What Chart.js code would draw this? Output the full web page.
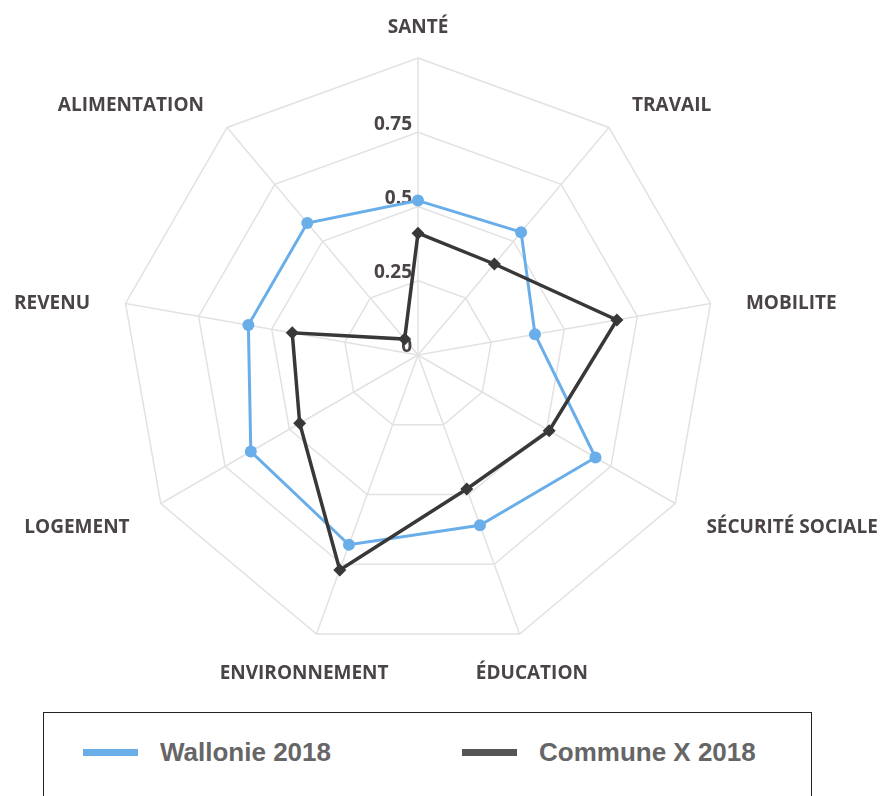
<!DOCTYPE html>
<html>
<head>
<meta charset="utf-8">
<script src="https://cdn.jsdelivr.net/npm/chart.js@4.4.1/dist/chart.umd.min.js"></script>
<style>
  body { margin: 0; background: #fff; width: 893px; height: 796px; overflow: hidden; position: relative; }
  #wrap { position: absolute; left: 0; top: 0; width: 893px; height: 710px; }
  #legend { position: absolute; left: 43px; top: 712px; width: 769px; height: 120px; border: 1px solid #222; box-sizing: border-box; }
  .item { position: absolute; top: 24px; height: 30px; display: flex; align-items: center;
          font: bold 26px "Liberation Sans", Arial, sans-serif; color: #666; }
  .swatch { width: 55px; height: 7px; margin-right: 22px; }
</style>
</head>
<body>
<div id="wrap"><canvas id="radar"></canvas></div>
<div id="legend"></div>
<script>
const categories = ['SANTÉ', 'TRAVAIL', 'MOBILITE', 'SÉCURITÉ SOCIALE', 'ÉDUCATION', 'ENVIRONNEMENT', 'LOGEMENT', 'REVENU', 'ALIMENTATION'];
const wallonie2018 = [0.52, 0.54, 0.40, 0.69, 0.61, 0.68, 0.65, 0.58, 0.58];
const communeX2018 = [0.41, 0.40, 0.68, 0.51, 0.48, 0.77, 0.46, 0.43, 0.07];
const tickValues = [0, 0.25, 0.5, 0.75];
const tickLabels = ['0', '0.25', '0.5', '0.75'];

const blue = '#6aaee9';
const dark = '#383838';
const textColor = '#4a4446';
const legendSwatch = [blue, '#555555'];

// axis names + tick labels, placed with the scale's own geometry
const radarText = {
    id: 'radarText',
    beforeDatasetsDraw(chart) {
        const r = chart.scales.r;
        const ctx = chart.ctx;
        ctx.save();
        ctx.font = 'bold 19px "Open Sans"';
        ctx.fillStyle = textColor;
        ctx.textBaseline = 'middle';
        categories.forEach((lab, i) => {
            const p = r.getPointPosition(i, r.drawingArea + 36);
            const dx = p.x - r.xCenter;
            ctx.textAlign = Math.abs(dx) < 150 ? 'center' : (dx > 0 ? 'left' : 'right');
            ctx.fillText(lab, p.x, p.y + 6);
        });
        ctx.textAlign = 'right';
        tickValues.forEach((v, i) => {
            const d = r.getDistanceFromCenterForValue(v);
            ctx.fillText(tickLabels[i], r.xCenter - 6, r.yCenter - d - 8);
        });
        ctx.restore();
    }
};

const chart = new Chart(document.getElementById('radar'), {
    type: 'radar',
    data: {
        labels: categories,
        datasets: [{
            label: 'Wallonie 2018',
            data: wallonie2018,
            borderColor: blue,
            backgroundColor: blue,
            borderWidth: 3,
            pointRadius: 6,
            pointBorderWidth: 0,
            pointStyle: 'circle',
            fill: false,
            order: 1
        }, {
            label: 'Commune X 2018',
            data: communeX2018,
            borderColor: dark,
            backgroundColor: dark,
            borderWidth: 3.5,
            pointRadius: 6.5,
            pointBorderWidth: 0,
            pointStyle: 'rectRot',
            fill: false,
            order: 0
        }]
    },
    options: {
        responsive: true,
        maintainAspectRatio: false,
        animation: false,
        layout: { padding: { left: 121, right: 178, top: 58, bottom: 58 } },
        plugins: { legend: { display: false }, tooltip: { enabled: false } },
        elements: { line: { tension: 0 } },
        scales: {
            r: {
                min: 0,
                max: 1,
                ticks: { display: false, stepSize: 0.25 },
                grid: { color: '#e2e2e2', lineWidth: 1.5 },
                angleLines: { color: '#e2e2e2', lineWidth: 1.5 },
                pointLabels: { display: false }
            }
        }
    },
    plugins: [radarText]
});

// legend box under the chart
const legend = document.getElementById('legend');
const legendX = [39, 418];
chart.data.datasets.forEach((ds, i) => {
    const item = document.createElement('div');
    item.className = 'item';
    item.style.left = legendX[i] + 'px';
    item.innerHTML = `<span class="swatch" style="background:${legendSwatch[i]}"></span>${ds.label}`;
    legend.appendChild(item);
});
</script>
</body>
</html>
